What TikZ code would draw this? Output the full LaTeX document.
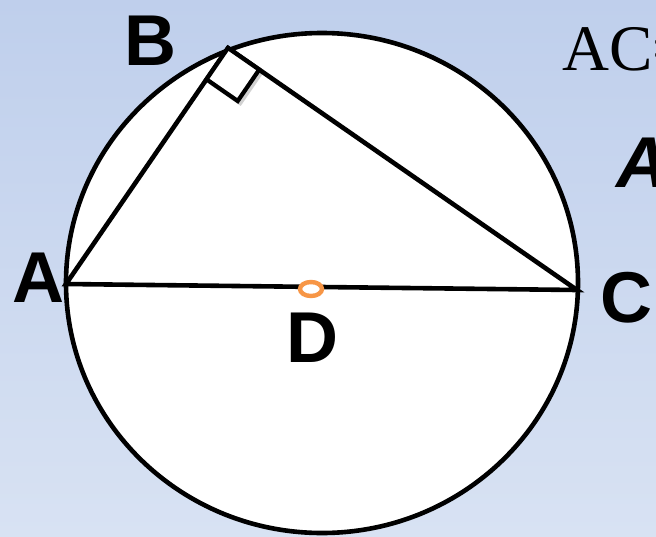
\documentclass[tikz,border=0pt]{standalone}
\usepackage{fontspec}
\setmainfont{Liberation Serif}
\newfontfamily\labelsans{Liberation Sans}
\usetikzlibrary{calc}
\definecolor{ink}{HTML}{000000}
\definecolor{ring}{HTML}{F79646}
\definecolor{bgtop}{HTML}{BFCFEC}
\definecolor{bgbot}{HTML}{D8E2F3}

\begin{document}
\begin{tikzpicture}[x=1pt, y=-1pt,
    edge/.style={ink, line width=4.6pt},
    vlabel/.style={ink, inner sep=0pt, font=\labelsans\bfseries\fontsize{72}{72}\selectfont}]
    \useasboundingbox (0,0) rectangle (656,536);
    \clip (0,0) rectangle (656,536);
    \shade[top color=bgtop, bottom color=bgbot] (0,0) rectangle (656,536);
    % points
    \coordinate (O) at (322,283);
    \coordinate (A) at (66,284);
    \coordinate (B) at (228,48);
    \coordinate (C) at (577,290);
    \coordinate (D) at (311,289);
    % circle
    \filldraw[edge, fill=white] (O) ellipse [x radius=256, y radius=250];
    % triangle
    \draw[edge] (A) -- (B) -- (C) -- cycle;
    % right angle at B
    \coordinate (Ba) at ($(B)!38pt!(A)$);
    \coordinate (Bc) at ($(B)!38pt!(C)$);
    \coordinate (Bo) at ($(Ba)+(Bc)-(B)$);
    \fill[black, opacity=0.18] ([shift={(3,5)}]Ba) -- ([shift={(3,5)}]Bo) -- ([shift={(3,5)}]Bc) -- (Bc) -- (Bo) -- (Ba) -- cycle;
    \filldraw[edge, line width=4.2pt, fill=white] (B) -- (Ba) -- (Bo) -- (Bc) -- cycle;
    % center D
    \filldraw[ring, line width=4.4pt, fill=white] (D) ellipse [x radius=11, y radius=7];
    % labels
    \node[vlabel] (lA) at (38,278) {A};
    \node[vlabel] (lB) at (150,41) {B};
    \node[vlabel] (lC) at (626,298) {C};
    \node[vlabel] (lD) at (312,338) {D};
    % text cut off at the right edge
    \node[anchor=base west, inner sep=0pt, font=\fontsize{65}{65}\selectfont] (eq) at (562,70) {AC=};
    \node[anchor=base west, inner sep=0pt, font=\labelsans\bfseries\itshape\fontsize{72}{72}\selectfont] (hw) at (616,187) {A};
\end{tikzpicture}
\end{document}
